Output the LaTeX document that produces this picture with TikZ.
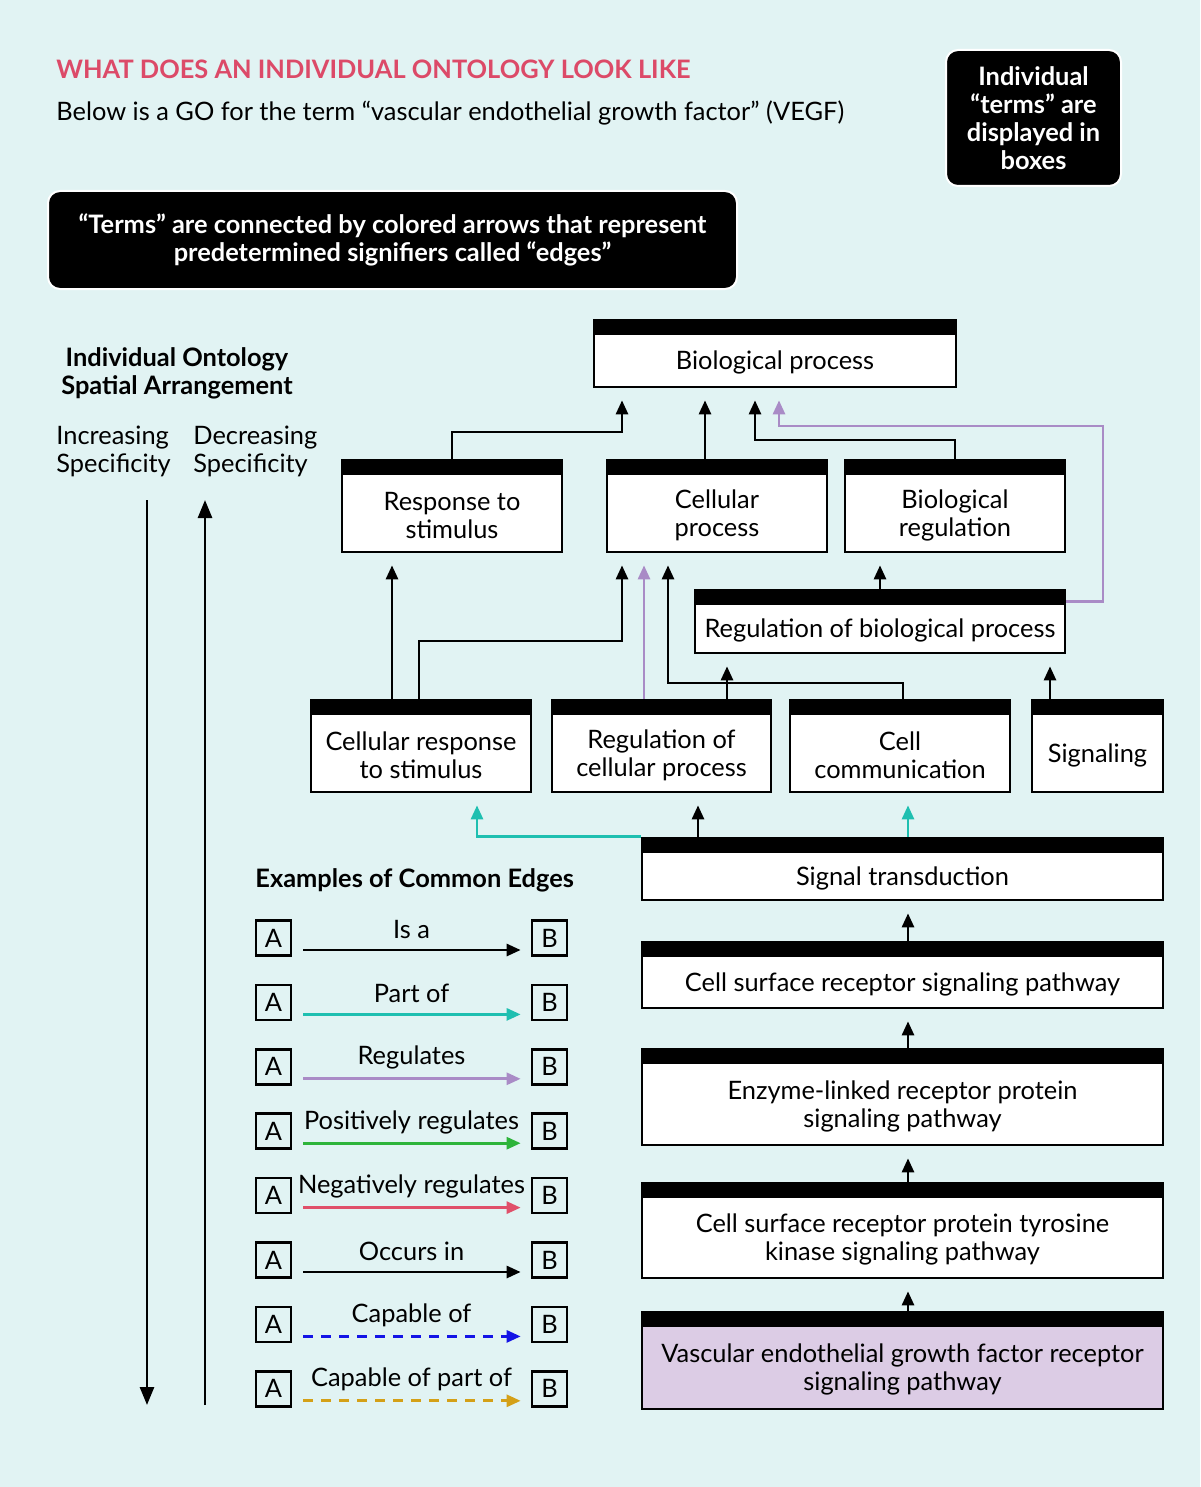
\documentclass[tikz,border=0pt]{standalone}
\usepackage{fontspec}
\setmainfont{Lato}
\usetikzlibrary{arrows.meta}
\usetikzlibrary{positioning}

\definecolor{bgcyan}{HTML}{E1F3F3}
\definecolor{titlered}{HTML}{DC4A68}
\definecolor{partofcol}{HTML}{1EBFB0}
\definecolor{regcol}{HTML}{A98BC6}
\definecolor{poscol}{HTML}{2DB43A}
\definecolor{negcol}{HTML}{E0506A}
\definecolor{capcol}{HTML}{1414E6}
\definecolor{cappartcol}{HTML}{D4A017}
\definecolor{vegfcol}{HTML}{DCCCE5}

\tikzset{
  term/.style={draw, line width=1.35pt, inner sep=0pt,
    path picture={\fill[black] (path picture bounding box.north west) rectangle ([yshift=-7.5pt]path picture bounding box.north east);}},
  termtext/.style={align=center, inner sep=0pt, font=\fontsize{12.7}{14}\selectfont},
  infobox/.style={fill=black, draw=white, line width=1pt, rounded corners=6pt, text=white,
    align=center, font=\bfseries\fontsize{12.7}{14}\selectfont},
  letterbox/.style={draw, line width=1.35pt, minimum size=17.5pt, inner sep=0pt, font=\fontsize{12.7}{14}\selectfont},
  goarrow/.style={line width=1.35pt, -{Triangle[length=7pt,width=6pt]}, shorten >=6pt},
  isa/.style={goarrow},
  partof/.style={goarrow, partofcol},
  regulates/.style={goarrow, regcol},
  posreg/.style={goarrow, poscol},
  negreg/.style={goarrow, negcol},
  occurs/.style={goarrow},
  capof/.style={goarrow, capcol, dash pattern=on 5pt off 4pt},
  cappartof/.style={goarrow, cappartcol, dash pattern=on 5pt off 4pt},
}

\newcommand\goterm[6][white]{%
  \node[term, fill=#1, minimum width=#4, minimum height=#5] (#2) at (#3) {};
  \node[termtext] (#2-text) at ([yshift=-4.5pt]#2.center) {#6};
}

\begin{document}
\begin{tikzpicture}[x=0.5pt, y=-0.5pt]
  \fill[bgcyan] (0,0) rectangle (1200,1487);
  \useasboundingbox (0,0) rectangle (1200,1487);

  \node[anchor=west, inner sep=0pt, text=titlered, font=\bfseries\fontsize{12.7}{14}\selectfont] (title) at (56,69) {WHAT DOES AN INDIVIDUAL ONTOLOGY LOOK LIKE};
  \node[anchor=west, inner sep=0pt, font=\fontsize{12.7}{14}\selectfont] (subtitle) at (56,113) {Below is a GO for the term “vascular endothelial growth factor” (VEGF)};
  \node[infobox, minimum width=87.5pt, minimum height=68pt] (boxnote) at (1033.5,118) {Individual\\“terms” are\\displayed in\\boxes};
  \node[infobox, minimum width=344.5pt, minimum height=49pt] (edgenote) at (392.5,240) {“Terms” are connected by colored arrows that represent\\predetermined signifiers called “edges”};

  \node[align=center, font=\bfseries\fontsize{12.7}{14}\selectfont] (spatial) at (177,373) {Individual Ontology\\Spatial Arrangement};
  \node[anchor=west, inner sep=0pt, align=left, font=\fontsize{12.7}{14}\selectfont] (inc) at (56,451) {Increasing\\Specificity};
  \node[anchor=west, inner sep=0pt, align=left, font=\fontsize{12.7}{14}\selectfont] (dec) at (193,451) {Decreasing\\Specificity};
  \coordinate (incTop) at (147,500);
  \coordinate (incBot) at (147,1405);
  \coordinate (decBot) at (205,1405);
  \coordinate (decTop) at (205,500);
  \draw[line width=1.35pt, -{Triangle[length=9pt,width=7pt]}] (incTop) -- (incBot);
  \draw[line width=1.35pt, -{Triangle[length=9pt,width=7pt]}] (decBot) -- (decTop);

  \goterm{bp}{775,353.5}{181pt}{33.5pt}{Biological process}
  \goterm{resp}{452,506}{110pt}{46pt}{Response to\\stimulus}
  \goterm{cellp}{717,506}{110pt}{46pt}{Cellular\\process}
  \goterm{bioreg}{955,506}{110pt}{46pt}{Biological\\regulation}
  \goterm{rbp}{880,621.5}{185pt}{31.5pt}{Regulation of biological process}
  \goterm{crs}{421,746}{110pt}{46pt}{Cellular response\\to stimulus}
  \goterm{rcp}{661.5,746}{109.5pt}{46pt}{Regulation of\\cellular process}
  \goterm{ccom}{900,746}{110pt}{46pt}{Cell\\communication}
  \goterm{sig}{1097.5,746}{65.5pt}{46pt}{Signaling}
  \goterm{st}{902.5,869}{260.5pt}{31pt}{Signal transduction}
  \goterm{csr}{902.5,975}{260.5pt}{33pt}{Cell surface receptor signaling pathway}
  \goterm{enz}{902.5,1097}{260.5pt}{48pt}{Enzyme-linked receptor protein\\signaling pathway}
  \goterm{cst}{902.5,1230.5}{260.5pt}{47.5pt}{Cell surface receptor protein tyrosine\\kinase signaling pathway}
  \goterm[vegfcol]{vegf}{902.5,1360.5}{260.5pt}{48.5pt}{Vascular endothelial growth factor receptor\\signaling pathway}

  \draw[isa] (resp.north) -- (452,432) -| (bp.south -| 622,0);
  \draw[isa] (cellp.north -| 705,0) -- (bp.south -| 705,0);
  \draw[isa] (bioreg.north) -- (955,440) -| (bp.south -| 755,0);
  \draw[regulates] ([yshift=-6.5pt]rbp.north east) -| (1103,426) -| (bp.south -| 779,0);
  \draw[isa] (rbp.north) -- (bioreg.south -| rbp.north);
  \draw[isa] (crs.north -| 392,0) -- (resp.south -| 392,0);
  \draw[isa] (crs.north -| 419,0) -- (419,641) -| (cellp.south -| 622,0);
  \draw[regulates] (rcp.north -| 644,0) -- (cellp.south -| 644,0);
  \draw[isa] (ccom.north -| 903,0) -- (903,683) -| (cellp.south -| 668,0);
  \draw[isa] (rcp.north -| 727,0) -- (rbp.south -| 727,0);
  \draw[isa] (sig.north -| 1050,0) -- (rbp.south -| 1050,0);
  \draw[isa] (st.north -| 698,0) -- (rcp.south -| 698,0);
  \draw[partof] (st.north west) -| (crs.south -| 477,0);
  \draw[partof] (st.north -| 908,0) -- (ccom.south -| 908,0);
  \draw[isa] (csr.north -| 908,0) -- (st.south -| 908,0);
  \draw[isa] (enz.north -| 908,0) -- (csr.south -| 908,0);
  \draw[isa] (cst.north -| 908,0) -- (enz.south -| 908,0);
  \draw[isa] (vegf.north -| 908,0) -- (cst.south -| 908,0);

  \node[anchor=west, inner sep=0pt, font=\bfseries\fontsize{12.7}{14}\selectfont] (legend) at (255,880) {Examples of Common Edges};
  \foreach \lbl/\edgestyle [count=\i] in {Is a/isa, Part of/partof, Regulates/regulates,
      Positively regulates/posreg, Negatively regulates/negreg, Occurs in/occurs,
      Capable of/capof, Capable of part of/cappartof}{
    \pgfmathsetmacro\ry{938+(\i-1)*64.4}
    \node[letterbox] (a\i) at (273.5,\ry) {A};
    \node[letterbox] (b\i) at (549.5,\ry) {B};
    \draw[\edgestyle, shorten <=5.5pt, shorten >=5pt] ([yshift=-6pt]a\i.east) -- node[midway, yshift=10.5pt, text=black, font=\fontsize{12.7}{14}\selectfont] (l\i) {\lbl} ([yshift=-6pt]b\i.west);
  }
\end{tikzpicture}
\end{document}
